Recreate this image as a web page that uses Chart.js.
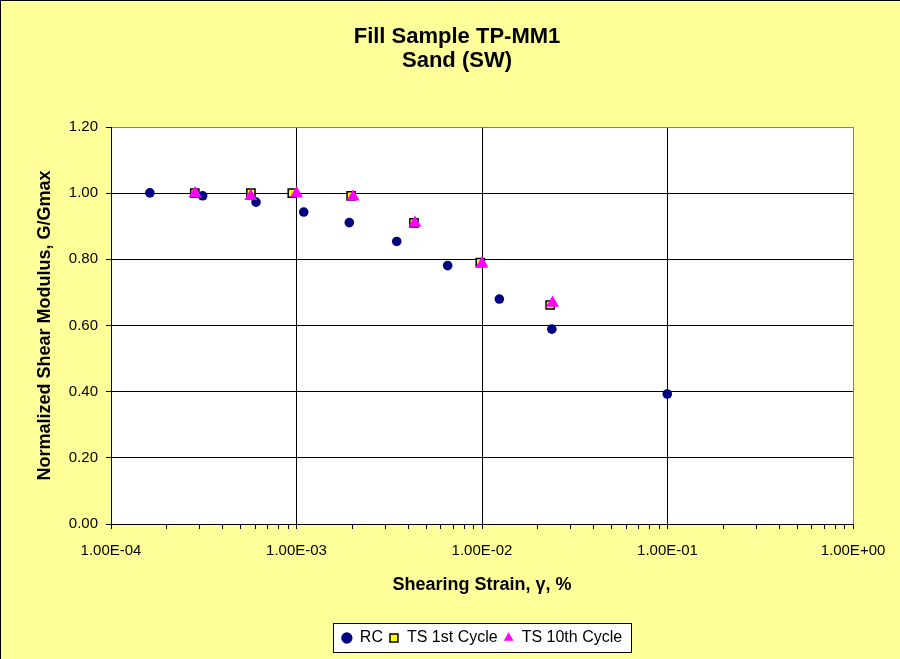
<!DOCTYPE html>
<html><head><meta charset="utf-8">
<script src="https://cdn.jsdelivr.net/npm/chart.js@4.4.1/dist/chart.umd.min.js"></script>
<style>html,body{margin:0;padding:0;background:#FFFF99;} canvas{display:block;}</style>
</head><body>
<canvas id="c" width="900" height="659"></canvas>
<script>
const titleLines = ["Fill Sample TP-MM1", "Sand (SW)"];
const xAxisTitle = "Shearing Strain, γ, %";
const yAxisTitle = "Normalized Shear Modulus, G/Gmax";
const seriesNames = ["RC", "TS 1st Cycle", "TS 10th Cycle"];

const rcStrain = [1.62e-4, 3.12e-4, 6.05e-4, 1.094e-3, 1.926e-3, 3.47e-3, 6.53e-3, 1.24e-2, 2.38e-2, 9.97e-2];
const rcG      = [1.001, 0.992, 0.973, 0.943, 0.911, 0.854, 0.781, 0.680, 0.589, 0.393];

const ts1Strain = [2.83e-4, 5.68e-4, 9.49e-4, 1.97e-3, 4.30e-3, 9.79e-3, 2.33e-2];
const ts1G      = [1.000, 1.000, 1.000, 0.992, 0.910, 0.790, 0.662];

const ts10Strain = [2.84e-4, 5.67e-4, 1.00e-3, 2.02e-3, 4.35e-3, 1.00e-2, 2.40e-2];
const ts10G      = [0.999, 0.991, 0.999, 0.989, 0.910, 0.787, 0.668];

const xDecades = [1e-4, 1e-3, 1e-2, 1e-1, 1];
const xTickLabels = ["1.00E-04", "1.00E-03", "1.00E-02", "1.00E-01", "1.00E+00"];
const yTickValues = [0, 0.2, 0.4, 0.6, 0.8, 1.0, 1.2];

const FONT = "Arial, 'Liberation Sans', sans-serif";

function toPts(xs, ys) { return xs.map((x, i) => ({x: x, y: ys[i]})); }
function isDecade(v) { const l = Math.log10(v); return Math.abs(l - Math.round(l)) < 1e-9; }
function decadeLabel(v) {
  for (let i = 0; i < xDecades.length; i++) {
    if (Math.abs(Math.log10(v) - Math.log10(xDecades[i])) < 1e-9) return xTickLabels[i];
  }
  return "";
}

const bgPlugin = {
  id: 'bg',
  beforeDraw(chart) {
    const ctx = chart.ctx, a = chart.chartArea;
    ctx.save();
    ctx.fillStyle = '#FFFF99';
    ctx.fillRect(0, 0, chart.width, chart.height);
    ctx.strokeStyle = '#000';
    ctx.lineWidth = 2;
    ctx.beginPath();
    ctx.moveTo(0, chart.height); ctx.lineTo(0, 0); ctx.lineTo(chart.width, 0);
    ctx.stroke();
    ctx.fillStyle = '#FFFFFF';
    ctx.fillRect(a.left, a.top, a.right - a.left, a.bottom - a.top);
    // titles
    ctx.fillStyle = '#000';
    ctx.font = "bold 22px " + FONT;
    ctx.textAlign = 'center';
    ctx.textBaseline = 'alphabetic';
    ctx.fillText(titleLines[0], 457, 43);
    ctx.fillText(titleLines[1], 457, 67);
    // legend box
    const lg = chart.legend;
    if (lg && lg.legendHitBoxes && lg.legendHitBoxes.length) {
      const hb = lg.legendHitBoxes;
      let l = Infinity, r = -Infinity, t = Infinity, b = -Infinity;
      hb.forEach(h => { l = Math.min(l, h.left); r = Math.max(r, h.left + h.width); t = Math.min(t, h.top); b = Math.max(b, h.top + h.height); });
      const bx = Math.round(l - 9) + 0.5, by = Math.round(t - 7) + 0.5;
      const bw = Math.round(r + 9 - (l - 9)), bh = Math.round(b + 6 - (t - 7));
      ctx.fillStyle = '#FFFFFF';
      ctx.fillRect(bx, by, bw, bh);
      ctx.strokeStyle = '#000';
      ctx.lineWidth = 1;
      ctx.strokeRect(bx, by, bw, bh);
    }
    ctx.restore();
  }
};

new Chart(document.getElementById('c'), {
  type: 'scatter',
  data: {
    datasets: [
      { label: seriesNames[0], data: toPts(rcStrain, rcG), pointStyle: 'circle', pointRadius: 4.8, pointHoverRadius: 4.8,
        backgroundColor: '#000080', borderColor: '#000080', borderWidth: 0, order: 3 },
      { label: seriesNames[1], data: toPts(ts1Strain, ts1G), pointStyle: 'rect', pointRadius: 5.8, pointHoverRadius: 5.8,
        backgroundColor: '#FFFF00', borderColor: '#000000', borderWidth: 1.5, order: 2 },
      { label: seriesNames[2], data: toPts(ts10Strain, ts10G), pointStyle: 'triangle', pointRadius: 7.5, pointHoverRadius: 7.5,
        backgroundColor: '#FF00FF', borderColor: '#FF00FF', borderWidth: 0, order: 1 }
    ]
  },
  options: {
    responsive: false,
    animation: false,
    events: [],
    layout: { padding: { left: 0, right: 47, top: 127, bottom: 3 } },
    plugins: {
      title: { display: false },
      tooltip: { enabled: false },
      legend: {
        display: true,
        position: 'bottom',
        fullSize: false,
        labels: {
          usePointStyle: true,
          boxWidth: 10,
          boxHeight: 8,
          padding: 6,
          color: '#000',
          font: { family: FONT, size: 16 },
          sort: (a, b) => a.datasetIndex - b.datasetIndex
        }
      }
    },
    scales: {
      x: {
        type: 'logarithmic',
        position: 'bottom',
        min: 1e-4,
        max: 1,
        afterBuildTicks(scale) {
          const t = [];
          for (let i = 0; i < xDecades.length; i++) {
            t.push({value: xDecades[i]});
            if (i < xDecades.length - 1) {
              for (let m = 2; m <= 9; m++) t.push({value: xDecades[i] * m});
            }
          }
          scale.ticks = t;
        },
        afterFit(scale) { scale.height = 100; },
        ticks: {
          autoSkip: false,
          maxRotation: 0,
          minRotation: 0,
          padding: 13,
          color: '#000',
          font: { family: FONT, size: 15 },
          callback: (v) => isDecade(v) ? decadeLabel(v) : ''
        },
        grid: {
          color: (c) => {
            const v = c.tick ? c.tick.value : 0;
            if (!isDecade(v)) return 'rgba(0,0,0,0)';
            if (Math.abs(v - 1) < 1e-9) return '#808080';
            return '#000000';
          },
          tickColor: '#000000',
          tickLength: 5,
          lineWidth: 1
        },
        border: { display: true, color: '#000000', width: 1 },
        title: {
          display: true,
          text: xAxisTitle,
          color: '#000',
          font: { family: FONT, size: 18, weight: 'bold' },
          padding: { top: 0, bottom: 28 }
        }
      },
      y: {
        type: 'linear',
        min: 0,
        max: 1.2,
        afterBuildTicks(scale) { scale.ticks = yTickValues.map(v => ({value: v})); },
        afterFit(scale) { scale.width = 111; },
        ticks: {
          padding: 8,
          color: '#000',
          font: { family: FONT, size: 15 },
          callback: (v) => Number(v).toFixed(2)
        },
        grid: {
          color: (c) => (c.tick && Math.abs(c.tick.value - 1.2) < 1e-9) ? '#808080' : '#000000',
          tickColor: '#000000',
          tickLength: 5,
          lineWidth: 1
        },
        border: { display: true, color: '#000000', width: 1 },
        title: {
          display: true,
          text: yAxisTitle,
          color: '#000',
          font: { family: FONT, size: 18, weight: 'bold' },
          padding: { top: 34, bottom: 0 }
        }
      }
    }
  },
  plugins: [bgPlugin]
});
</script>
</body></html>
